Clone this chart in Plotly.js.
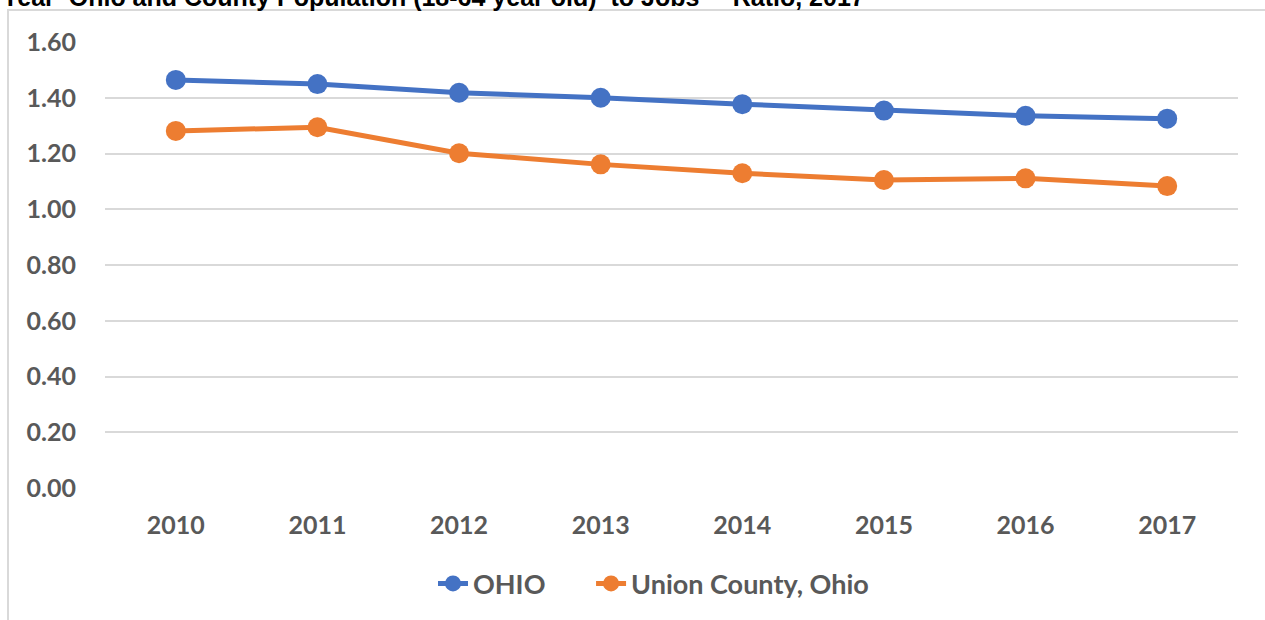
<!DOCTYPE html>
<html>
<head>
<meta charset="utf-8">
<script src="https://cdn.plot.ly/plotly-3.0.1.min.js"></script>
<style>
html,body{margin:0;padding:0;background:#fff;overflow:hidden;}
#chart{width:1265px;height:620px;}
</style>
</head>
<body>
<div id="chart"></div>
<script>
const years = ["2010","2011","2012","2013","2014","2015","2016","2017"];
const ohio = [1.464, 1.449, 1.418, 1.400, 1.377, 1.354, 1.335, 1.325];
const union = [1.281, 1.294, 1.201, 1.161, 1.129, 1.105, 1.111, 1.083];
const seriesNames = ["OHIO", "Union County, Ohio"];
const yTicks = [0, 0.2, 0.4, 0.6, 0.8, 1.0, 1.2, 1.4, 1.6];
const titleText = "Year  Ohio and County Population (18-64 year old)  to Jobs**  Ratio, 2017";

const font = "Lato, 'Open Sans', sans-serif";
const legFont = {family: font, size: 27, color: "#595959", weight: "bold"};
const traces = [
  {x: years, y: ohio, name: seriesNames[0], type: "scatter", mode: "lines+markers", legend: "legend",
   line: {color: "#4472C4", width: 5}, marker: {color: "#4472C4", size: 20}},
  {x: years, y: union, name: seriesNames[1], type: "scatter", mode: "lines+markers", legend: "legend2",
   line: {color: "#ED7D31", width: 5}, marker: {color: "#ED7D31", size: 20}}
];
const layout = {
  width: 1265, height: 620,
  margin: {l: 105, r: 27, t: 42, b: 132},
  paper_bgcolor: "#fff", plot_bgcolor: "#fff",
  showlegend: true,
  legend: {orientation: "h", x: 0.2895, xanchor: "left", y: -0.215, yanchor: "middle", font: legFont, itemwidth: 30},
  legend2: {orientation: "h", x: 0.429, xanchor: "left", y: -0.215, yanchor: "middle", font: legFont, itemwidth: 30},
  xaxis: {type: "category", range: [-0.5, 7.5], showgrid: false, zeroline: false, showline: false,
    ticks: "", tickfont: {family: font, size: 25, color: "#595959", weight: "bold"}, ticklabelstandoff: 20},
  yaxis: {range: [0, 1.6], tickvals: yTicks, tickformat: ".2f", showgrid: true, gridcolor: "#d9d9d9", gridwidth: 2,
    zeroline: false, showline: false, ticks: "",
    tickfont: {family: font, size: 25, color: "#595959", weight: "bold"}, ticklabelstandoff: 28},
  shapes: [
    {type: "rect", xref: "paper", yref: "paper", x0: -0.0856, x1: 1.2, y0: -0.5, y1: 1.0717,
     line: {color: "#d9d9d9", width: 2}, fillcolor: "rgba(0,0,0,0)", layer: "below"}
  ],
  annotations: [
    {text: titleText, xref: "paper", yref: "paper", x: -0.0927, xanchor: "left", y: 1.065, yanchor: "bottom",
     showarrow: false, font: {family: "Arial, 'Liberation Sans', sans-serif", size: 25, color: "#000", weight: "bold"}}
  ]
};
Plotly.newPlot("chart", traces, layout, {displayModeBar: false, staticPlot: true});
</script>
</body>
</html>
